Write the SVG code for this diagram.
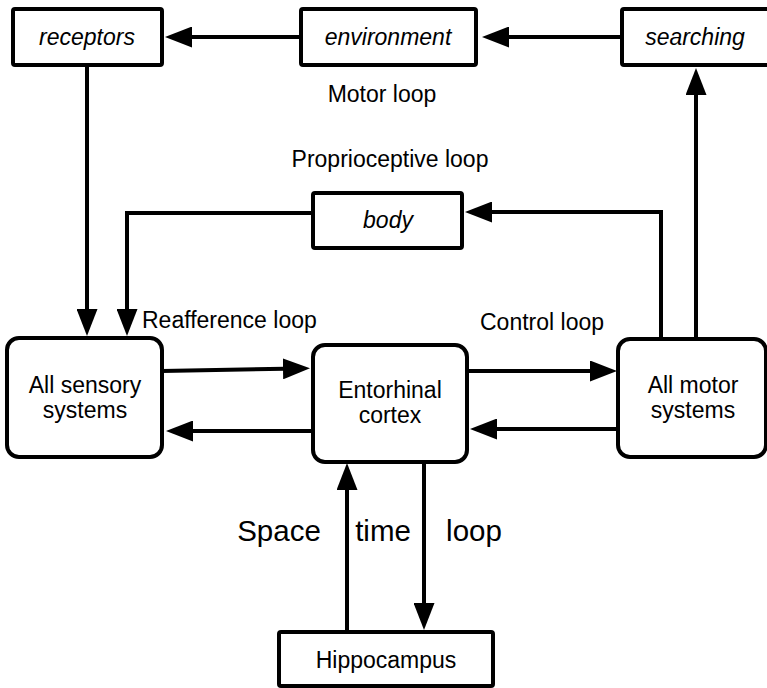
<svg xmlns="http://www.w3.org/2000/svg" width="767" height="688" viewBox="0 0 767 688">
  <style>
    .box { fill: #fff; stroke: #000; stroke-width: 4; }
    .lbl { font-family: "Liberation Sans", Arial, sans-serif; font-size: 23px; fill: #000; text-anchor: middle; }
    .it { font-style: italic; }
    .big { font-size: 29.5px; }
    .start { text-anchor: start; }
    .wire { fill: none; stroke: #000; stroke-width: 4; marker-end: url(#head); }
  </style>
  <defs>
    <marker id="head" markerUnits="userSpaceOnUse" markerWidth="27" markerHeight="21" refX="17" refY="10.5" orient="auto">
      <path d="M0,0 L27,10.5 L0,21 Z" fill="#000"/>
    </marker>
  </defs>
  <rect width="767" height="688" fill="#fff"/>

  <g id="connectors">
    <path class="wire" d="M300,37 H175"/>
    <path class="wire" d="M622,37 H492"/>
    <path class="wire" d="M87,64 V326"/>
    <path class="wire" d="M313,213 H127 V326"/>
    <path class="wire" d="M661,339 V212 H475"/>
    <path class="wire" d="M696,339 V78"/>
    <path class="wire" d="M162,371 L300,368.5"/>
    <path class="wire" d="M313,431 H176"/>
    <path class="wire" d="M467,371 H607"/>
    <path class="wire" d="M618,429 H480"/>
    <path class="wire" d="M347,632 V473"/>
    <path class="wire" d="M424,462 V620"/>
  </g>

  <g id="receptors">
    <rect class="box" x="13" y="9" width="149" height="56" rx="2"/>
    <text class="lbl it" x="87" y="45">receptors</text>
  </g>
  <g id="environment">
    <rect class="box" x="301" y="9" width="175" height="56" rx="2"/>
    <text class="lbl it" x="388" y="45">environment</text>
  </g>
  <g id="searching">
    <rect class="box" x="622" y="9" width="150" height="56" rx="2"/>
    <text class="lbl it" x="695" y="45">searching</text>
  </g>
  <g id="body">
    <rect class="box" x="313" y="193" width="149" height="55" rx="2"/>
    <text class="lbl it" x="388" y="228">body</text>
  </g>
  <g id="sensory">
    <rect class="box" x="7" y="338" width="155" height="119" rx="12"/>
    <text class="lbl" x="85" y="393">All sensory</text>
    <text class="lbl" x="85" y="418">systems</text>
  </g>
  <g id="entorhinal">
    <rect class="box" x="313" y="345" width="154" height="117" rx="12"/>
    <text class="lbl" x="390" y="398">Entorhinal</text>
    <text class="lbl" x="390" y="423">cortex</text>
  </g>
  <g id="motor">
    <rect class="box" x="618" y="339" width="148" height="118" rx="12"/>
    <text class="lbl" x="693" y="393">All motor</text>
    <text class="lbl" x="693" y="418">systems</text>
  </g>
  <g id="hippocampus">
    <rect class="box" x="279" y="632" width="214" height="54" rx="2"/>
    <text class="lbl" x="386" y="668">Hippocampus</text>
  </g>

  <g id="loop-labels">
    <text class="lbl" x="382" y="102">Motor loop</text>
    <text class="lbl" x="390" y="167">Proprioceptive loop</text>
    <text class="lbl start" x="142" y="328">Reafference loop</text>
    <text class="lbl start" x="480" y="330">Control loop</text>
    <text class="lbl big" x="279" y="541">Space</text>
    <text class="lbl big" x="383" y="541">time</text>
    <text class="lbl big" x="474" y="541">loop</text>
  </g>
</svg>
